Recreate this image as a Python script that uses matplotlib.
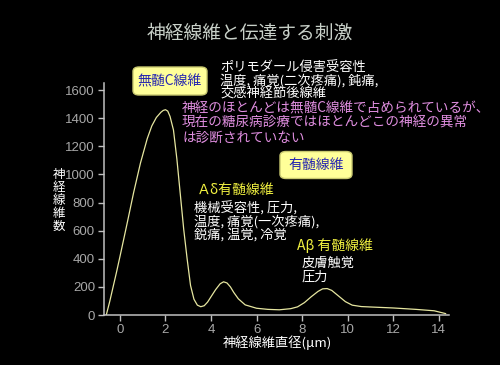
import numpy as np
import matplotlib
matplotlib.use("Agg")
import matplotlib.pyplot as plt
from matplotlib.patches import FancyBboxPatch

plt.rcParams['font.family'] = ['Noto Sans CJK JP', 'DejaVu Sans']

# fibre diameter (um) vs number of fibres
diameter = [-0.6, -0.45, -0.3, -0.15, 0.0, 0.3, 0.6, 0.9, 1.2, 1.4, 1.6, 1.8, 1.9,
            2.0, 2.1, 2.2, 2.35, 2.5, 2.65, 2.8, 2.95, 3.1, 3.25, 3.4, 3.55, 3.7,
            3.85, 4.0, 4.2, 4.4, 4.55, 4.7, 4.85, 5.0, 5.2, 5.5, 6.0, 6.5, 7.0,
            7.5, 7.8, 8.1, 8.4, 8.7, 8.9, 9.1, 9.3, 9.6, 9.9, 10.2, 10.6, 11.0,
            12.0, 13.0, 13.8, 14.3]
count = [0, 95, 200, 305, 415, 640, 870, 1080, 1255, 1345, 1405, 1442, 1455,
         1460, 1450, 1412, 1316, 1110, 860, 610, 400, 210, 112, 70, 59, 66,
         92, 130, 180, 222, 236, 228, 200, 160, 115, 72, 48, 40, 37,
         45, 58, 88, 130, 168, 186, 188, 175, 135, 95, 70, 60, 57,
         50, 40, 30, 10]

xticks = [0, 2, 4, 6, 8, 10, 12, 14]
yticks = [0, 200, 400, 600, 800, 1000, 1200, 1400, 1600]

title = "神経線維と伝達する刺激"
ylabel = "神経線維数"
xlabel = "神経線維直径(μm)"

W, H = 500, 365
fig = plt.figure(figsize=(5, 3.65), dpi=100, facecolor='black')
ax = fig.add_axes([104 / W, 1 - 315 / H, 345 / W, 232 / H])
ax.set_facecolor('black')

ax.plot(diameter, count, color='#e6e6a0', lw=0.9)
ax.set_xlim(-0.7, 14.45)
ax.set_ylim(0, 1650)
ax.set_xticks(xticks)
ax.set_yticks(yticks)

for s in ['top', 'right']:
    ax.spines[s].set_visible(False)
for s in ['left', 'bottom']:
    ax.spines[s].set_color('#c0c0c0')
    ax.spines[s].set_linewidth(1.1)
ax.tick_params(colors='#c0c0c0', length=4.5, width=1.0, pad=2)
for lab in ax.get_xticklabels() + ax.get_yticklabels():
    lab.set_family('Liberation Sans')
    lab.set_fontsize(9.5)
    lab.set_color('#a8a8a8')


def px(x, y):
    return x / W, 1 - y / H


fig.text(*px(250, 33), title, color='#c8d0c8', fontsize=13.5,
         ha='center', va='center')

for i, ch in enumerate(ylabel):
    fig.text(*px(59, 174 + i * 13), ch, color='white', fontsize=9,
             ha='center', va='center')
fig.text(*px(277, 343), xlabel, color='white', fontsize=9.5,
         ha='center', va='center')


def box(cx, cy, w, h, label):
    x0, y0 = px(cx - w / 2, cy + h / 2)
    p = FancyBboxPatch((x0, y0), w / W, h / H, transform=fig.transFigure,
                       boxstyle='round,pad=0,rounding_size=0.012',
                       facecolor='#ffff99', edgecolor='#c8c870', lw=1)
    fig.patches.append(p)
    fig.text(*px(cx, cy), label, color='#2626b0', fontsize=10,
             ha='center', va='center')


box(170, 81, 74, 28, "無髄C線維")
box(316, 165, 72, 27, "有髄線維")


def lines(x, ys, texts, color, size=9.5):
    for y, t in zip(ys, texts):
        fig.text(*px(x, y), t, color=color, fontsize=size,
                 ha='left', va='center')


lines(220, [67, 81, 94],
      ["ポリモダール侵害受容性", "温度, 痛覚(二次疼痛), 鈍痛,", "交感神経節後線維"],
      'white')
lines(182, [108, 123, 138],
      ["神経のほとんどは無髄C線維で占められているが、",
       "現在の糖尿病診療ではほとんどこの神経の異常",
       "は診断されていない"],
      '#e08ee0', 9.8)
lines(197, [190], ["Ａδ有髄線維"], '#f0f040', 10)
lines(194, [209, 222, 235],
      ["機械受容性, 圧力,", "温度, 痛覚(一次疼痛),", "鋭痛, 温覚, 冷覚"],
      'white')
lines(297, [246], ["Aβ 有髄線維"], '#f0f040', 10)
lines(302, [263, 277], ["皮膚触覚", "圧力"], 'white')

fig.savefig('out.png', dpi=100, facecolor='black')
